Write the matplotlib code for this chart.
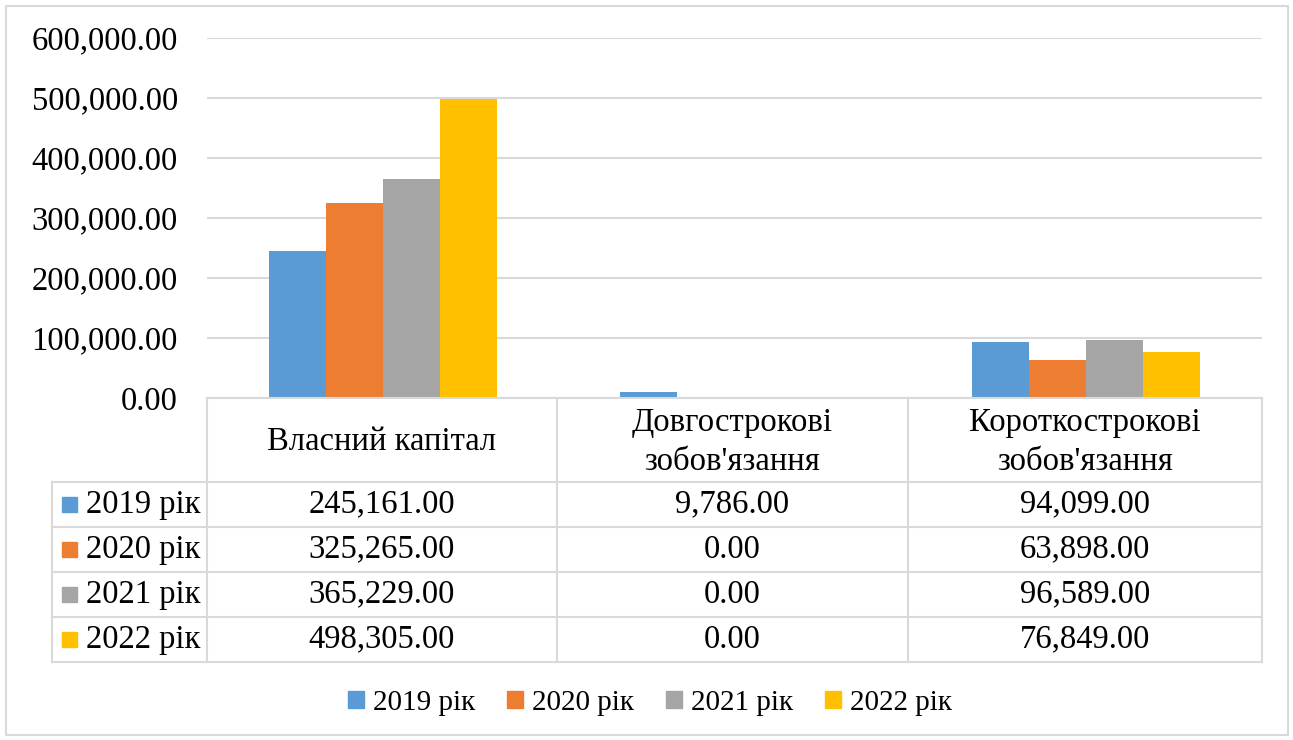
import matplotlib.pyplot as plt
from matplotlib.patches import Rectangle, Patch
from matplotlib.lines import Line2D
import numpy as np

categories = ["Власний капітал", "Довгострокові\nзобов'язання", "Короткострокові\nзобов'язання"]
series = ["2019 рік", "2020 рік", "2021 рік", "2022 рік"]
values = [
    [245161.00, 9786.00, 94099.00],
    [325265.00, 0.00, 63898.00],
    [365229.00, 0.00, 96589.00],
    [498305.00, 0.00, 76849.00],
]
colors = ["#5B9BD5", "#ED7D31", "#A5A5A5", "#FFC000"]
yticks = [0, 100000, 200000, 300000, 400000, 500000, 600000]

W, H = 1293, 740
plt.rcParams['font.family'] = ['Liberation Serif', 'DejaVu Serif']
fig = plt.figure(figsize=(W / 100, H / 100), dpi=100)
grid_c = "#D9D9D9"
fs = 23.5

def fx(px):
    return px / W

def fy(py):
    return 1 - py / H

# plot area
ax_l, ax_r, ax_t, ax_b = 207, 1262, 38, 398
ax = fig.add_axes([fx(ax_l), fy(ax_b), fx(ax_r - ax_l), fy(ax_t) - fy(ax_b)])
x = np.arange(len(categories))
bw = 0.1625
for i, (name, vals) in enumerate(zip(series, values)):
    ax.bar(x + (i - 1.5) * bw, vals, bw, color=colors[i], zorder=3)
ax.set_xlim(-0.5, len(categories) - 0.5)
ax.set_ylim(0, 600000)
ax.set_yticks(yticks)
ax.set_yticklabels([f"{v:,.2f}" for v in yticks], fontsize=fs)
ax.tick_params(axis='y', length=0, pad=21)
ax.set_xticks([])
ax.grid(axis='y', color=grid_c, linewidth=1.5, zorder=0)
for s in ax.spines.values():
    s.set_visible(False)

# data table
col_x = [207, 557, 908, 1262]
left_x = 52
row_y = [398, 482, 527, 572, 617, 662]
lw = 1.5
fig.add_artist(Line2D([fx(col_x[0]), fx(col_x[-1])], [fy(row_y[0])] * 2, color=grid_c, lw=lw))
for yy in row_y[1:]:
    fig.add_artist(Line2D([fx(left_x), fx(col_x[-1])], [fy(yy)] * 2, color=grid_c, lw=lw))
for xx in col_x:
    fig.add_artist(Line2D([fx(xx)] * 2, [fy(row_y[0]), fy(row_y[-1])], color=grid_c, lw=lw))
fig.add_artist(Line2D([fx(left_x)] * 2, [fy(row_y[1]), fy(row_y[-1])], color=grid_c, lw=lw))

# header texts
for j, cat in enumerate(categories):
    cx = (col_x[j] + col_x[j + 1]) / 2
    cy = (row_y[0] + row_y[1]) / 2 + 2
    fig.text(fx(cx), fy(cy), cat, ha='center', va='center', fontsize=fs, linespacing=1.35)

# rows
for i, (name, vals) in enumerate(zip(series, values)):
    cy = (row_y[i + 1] + row_y[i + 2]) / 2
    fig.add_artist(Rectangle((fx(62), fy(cy + 7)), fx(15), fy(cy - 8) - fy(cy + 7), color=colors[i]))
    fig.text(fx(86), fy(cy), name, ha='left', va='center', fontsize=fs)
    for j, v in enumerate(vals):
        cx = (col_x[j] + col_x[j + 1]) / 2
        fig.text(fx(cx), fy(cy), f"{v:,.2f}", ha='center', va='center', fontsize=fs)

# legend
handles = [Patch(color=c, label=s) for c, s in zip(colors, series)]
fig.legend(handles=handles, loc='center', bbox_to_anchor=(fx(650), fy(703)), ncol=4,
           frameon=False, fontsize=21, handlelength=0.55, handleheight=0.55,
           handletextpad=0.3, columnspacing=1.1)

# outer border
fig.add_artist(Rectangle((fx(6), fy(735)), fx(1282), fy(6) - fy(735), fill=False,
                         edgecolor=grid_c, lw=1.5))

fig.savefig("out.png", dpi=100)
